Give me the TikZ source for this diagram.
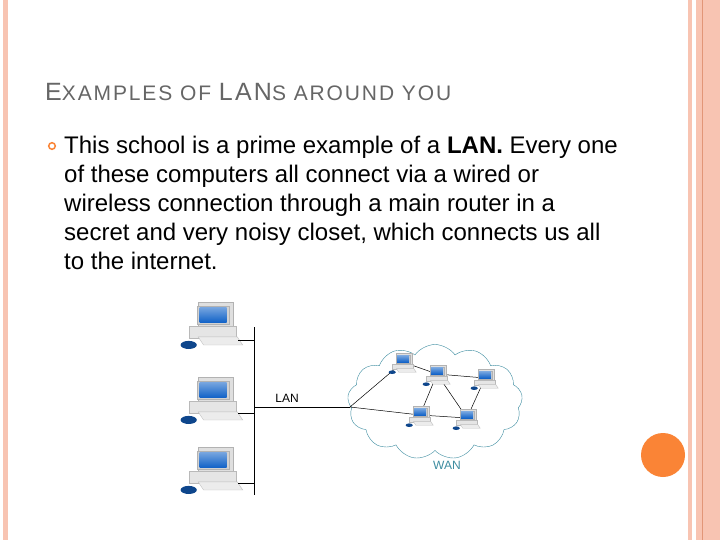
\documentclass[tikz,border=0pt]{standalone}
\usepackage{fontspec}
\setmainfont{Liberation Sans}
\usetikzlibrary{shapes.symbols}
\definecolor{stripe}{RGB}{248,196,178}
\definecolor{stripedark}{RGB}{226,150,120}
\definecolor{dot}{RGB}{250,132,54}
\definecolor{screen}{RGB}{20,100,200}
\definecolor{wancol}{RGB}{60,140,160}
\tikzset{
  pics/computer/.style={code={
    % monitor, screen, base, keyboard, mouse
    \fill[gray!25, draw=gray!60] (-0.55,-0.75) rectangle (0.75,0.15);
    \fill[gray!20, draw=gray!55] (-0.9,0.15) rectangle (0.85,0.6);
    \fill[gray!35, draw=gray!60] (-0.6,-0.6) rectangle (0.6,0.08);
    \shade[top color=screen!60, bottom color=screen] (-0.5,-0.52) rectangle (0.5,0);
    \fill[gray!15, draw=gray!50] (-0.55,0.55) -- (0.9,0.55) -- (1.1,0.85) -- (-0.35,0.85) -- cycle;
    \fill[screen!70!black] (-0.9,0.85) ellipse (0.3 and 0.15);
  }},
  bigpc/.style={scale=27},
  smallpc/.style={scale=12},
  link/.style={black, line width=0.7pt},
  every node/.style={inner sep=0pt},
}
\begin{document}
\begin{tikzpicture}[x=1pt,y=-1pt]
  \useasboundingbox (0,0) rectangle (720,540);
  \fill[white] (0,0) rectangle (720,540);
  % border stripes
  \fill[stripe] (3,0) rectangle (8,540);
  \fill[stripe] (688,0) rectangle (692,540);
  \fill[stripe] (696,0) rectangle (720,540);
  \draw[stripedark, line width=0.8pt] (702,0) -- (702,540);
  \fill[dot] (663,455) circle (22);

  % title and text
  \node[anchor=base west, text=gray!80!black] (title) at (45,101)
    {\addfontfeature{LetterSpace=9}{\fontsize{25}{25}\selectfont E}{\fontsize{21}{21}\selectfont XAMPLES OF }{\fontsize{25}{25}\selectfont LAN}{\fontsize{21}{21}\selectfont S AROUND YOU}};
  \draw[dot, line width=1.5pt] (52,146) circle (3.3);
  \node[anchor=north west, align=left, font=\fontsize{24}{29}\selectfont] (body) at (64,136)
    {This school is a prime example of a \textbf{LAN.} Every one\\
     of these computers all connect via a wired or\\
     wireless connection through a main router in a\\
     secret and very noisy closet, which connects us all\\
     to the internet.};

  % LAN side
  \coordinate (bustop) at (254,327);
  \coordinate (busbot) at (254,495);
  \draw[link] (bustop) -- (busbot);
  \pic[bigpc] (pa) at (213,322) {computer};
  \pic[bigpc] (pb) at (213,397) {computer};
  \pic[bigpc] (pc) at (213,467) {computer};
  \coordinate (ta) at (254,340);
  \coordinate (tb) at (254,413);
  \coordinate (tc) at (254,483);
  \draw[link] (238,340) -- (ta);
  \draw[link] (238,413) -- (tb);
  \draw[link] (238,483) -- (tc);
  \coordinate (tap) at (254,407);
  \node[font=\fontsize{12}{12}\selectfont] (lan) at (287,398) {LAN};

  % WAN cloud
  \node[cloud, cloud puffs=13, cloud puff arc=110, aspect=1.7, draw=wancol, thin,
        minimum width=175, minimum height=115] (cloud) at (435,402) {};
  \node[font=\fontsize{12}{12}\selectfont, text=wancol] (wan) at (447,465) {WAN};
  \coordinate (hub) at (350,407);
  \coordinate (w1) at (403,362);
  \coordinate (w2) at (437,374);
  \coordinate (w3) at (485,378);
  \coordinate (w4) at (420,415);
  \coordinate (w5) at (467,418);
  \draw[link, line width=0.5pt] (tap) -- (hub);
  \draw[link, line width=0.5pt] (hub) -- (w1) (hub) -- (w4)
    (w1) -- (w2) (w2) -- (w3) (w2) -- (w4) (w2) -- (w5) (w3) -- (w5) (w4) -- (w5);
  \foreach \c in {w1,w2,w3,w4,w5}
    \pic[smallpc] at (\c) {computer};
\end{tikzpicture}
\end{document}
